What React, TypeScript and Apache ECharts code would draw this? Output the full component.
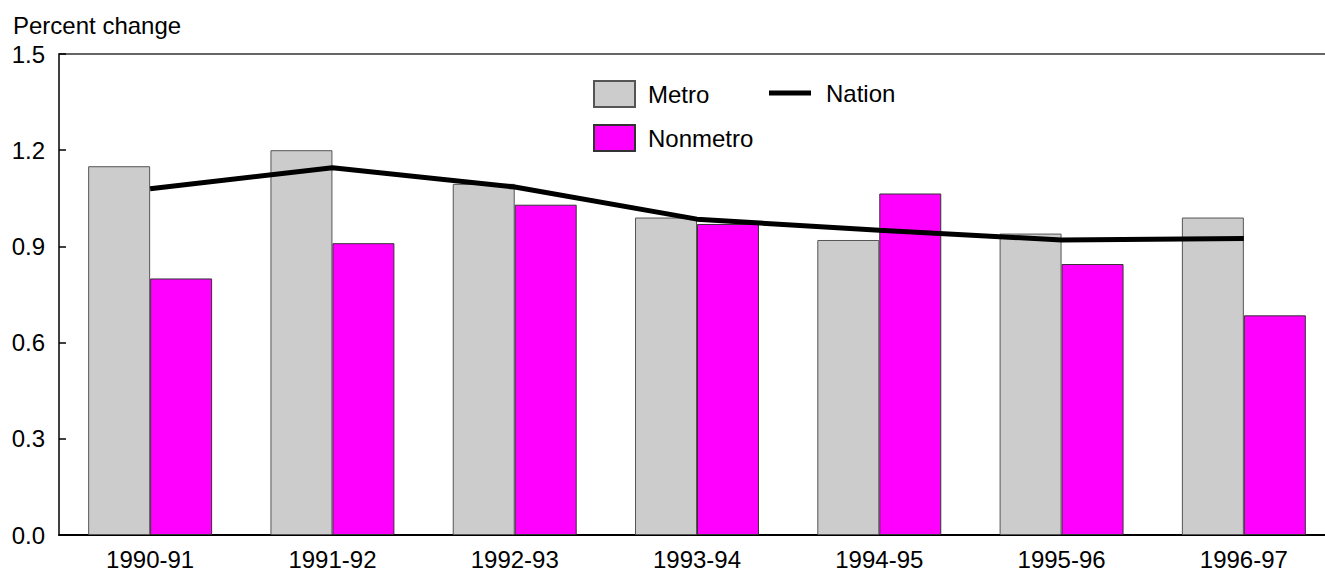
import React, { useEffect, useRef } from "react";
import * as echarts from "echarts";

const categories = ["1990-91", "1991-92", "1992-93", "1993-94", "1994-95", "1995-96", "1996-97"];
const metro = [1.15, 1.2, 1.095, 0.99, 0.92, 0.94, 0.99];
const nonmetro = [0.8, 0.91, 1.03, 0.97, 1.065, 0.845, 0.685];
const nation = [1.08, 1.145, 1.085, 0.985, 0.95, 0.92, 0.925];
const yTicks = [0, 0.3, 0.6, 0.9, 1.2, 1.5];

const FONT = "Liberation Sans, Arial, sans-serif";
const FS = 24;

export default function App() {
  const ref = useRef<HTMLDivElement>(null);
  useEffect(() => {
    if (!ref.current) return;
    const chart = echarts.init(ref.current, undefined, { renderer: "svg" });
    chart.setOption({
      animation: false,
      backgroundColor: "#ffffff",
      title: {
        text: "Percent change",
        left: 6,
        top: 8,
        padding: [5, 7],
        textStyle: { fontFamily: FONT, fontSize: FS, fontWeight: "normal", color: "#000" },
      },
      legend: [
        {
          data: [
            { name: "Metro", icon: "rect" },
            { name: "Nonmetro", icon: "rect" },
          ],
          orient: "vertical",
          left: 593,
          top: 80,
          padding: 0,
          itemWidth: 41,
          itemHeight: 26,
          itemGap: 16,
          textStyle: { fontFamily: FONT, fontSize: FS, color: "#000", padding: [0, 0, 0, 8] },
        },
        {
          data: [{ name: "Nation", icon: "rect" }],
          left: 769,
          top: 80,
          padding: 0,
          itemWidth: 42,
          itemHeight: 5,
          textStyle: { fontFamily: FONT, fontSize: FS, color: "#000", padding: [0, 0, 0, 10], height: 26, lineHeight: 26 },
        },
      ],
      grid: { left: 59, top: 54, width: 1276, height: 481, containLabel: false },
      xAxis: [
        {
          type: "category",
          data: categories,
          axisLine: { lineStyle: { color: "#000", width: 2 } },
          axisTick: { show: false },
          axisLabel: { fontFamily: FONT, fontSize: FS, color: "#000", margin: 12 },
        },
        {
          type: "category",
          data: categories,
          position: "top",
          axisLine: { show: true, onZero: false, lineStyle: { color: "#333", width: 1.5 } },
          axisTick: { show: false },
          axisLabel: { show: false },
        },
      ],
      yAxis: {
        type: "value",
        min: 0,
        max: 1.5,
        interval: 0.3,
        axisLine: { show: true, lineStyle: { color: "#000", width: 1.5 } },
        axisTick: { show: true, inside: true, length: 7, lineStyle: { color: "#000", width: 1.5 } },
        splitLine: { show: false },
        axisLabel: {
          fontFamily: FONT,
          fontSize: FS,
          color: "#000",
          margin: 14,
          formatter: (v: number) => (yTicks.includes(Math.round(v * 10) / 10) ? v.toFixed(1) : ""),
        },
      },
      series: [
        {
          name: "Metro",
          type: "bar",
          data: metro,
          barGap: "0%",
          barCategoryGap: "32%",
          itemStyle: { color: "#cccccc", borderColor: "#555", borderWidth: 1 },
        },
        {
          name: "Nonmetro",
          type: "bar",
          data: nonmetro,
          itemStyle: { color: "#ff00ff", borderColor: "#333", borderWidth: 1 },
        },
        {
          name: "Nation",
          type: "line",
          data: nation,
          symbol: "none",
          lineStyle: { color: "#000", width: 5 },
          itemStyle: { color: "#000" },
          z: 5,
        },
      ],
    });
    return () => chart.dispose();
  }, []);
  return (
    <div
      ref={ref}
      style={{ position: "fixed", left: 0, top: 0, width: 1340, height: 571, background: "#fff" }}
    />
  );
}
